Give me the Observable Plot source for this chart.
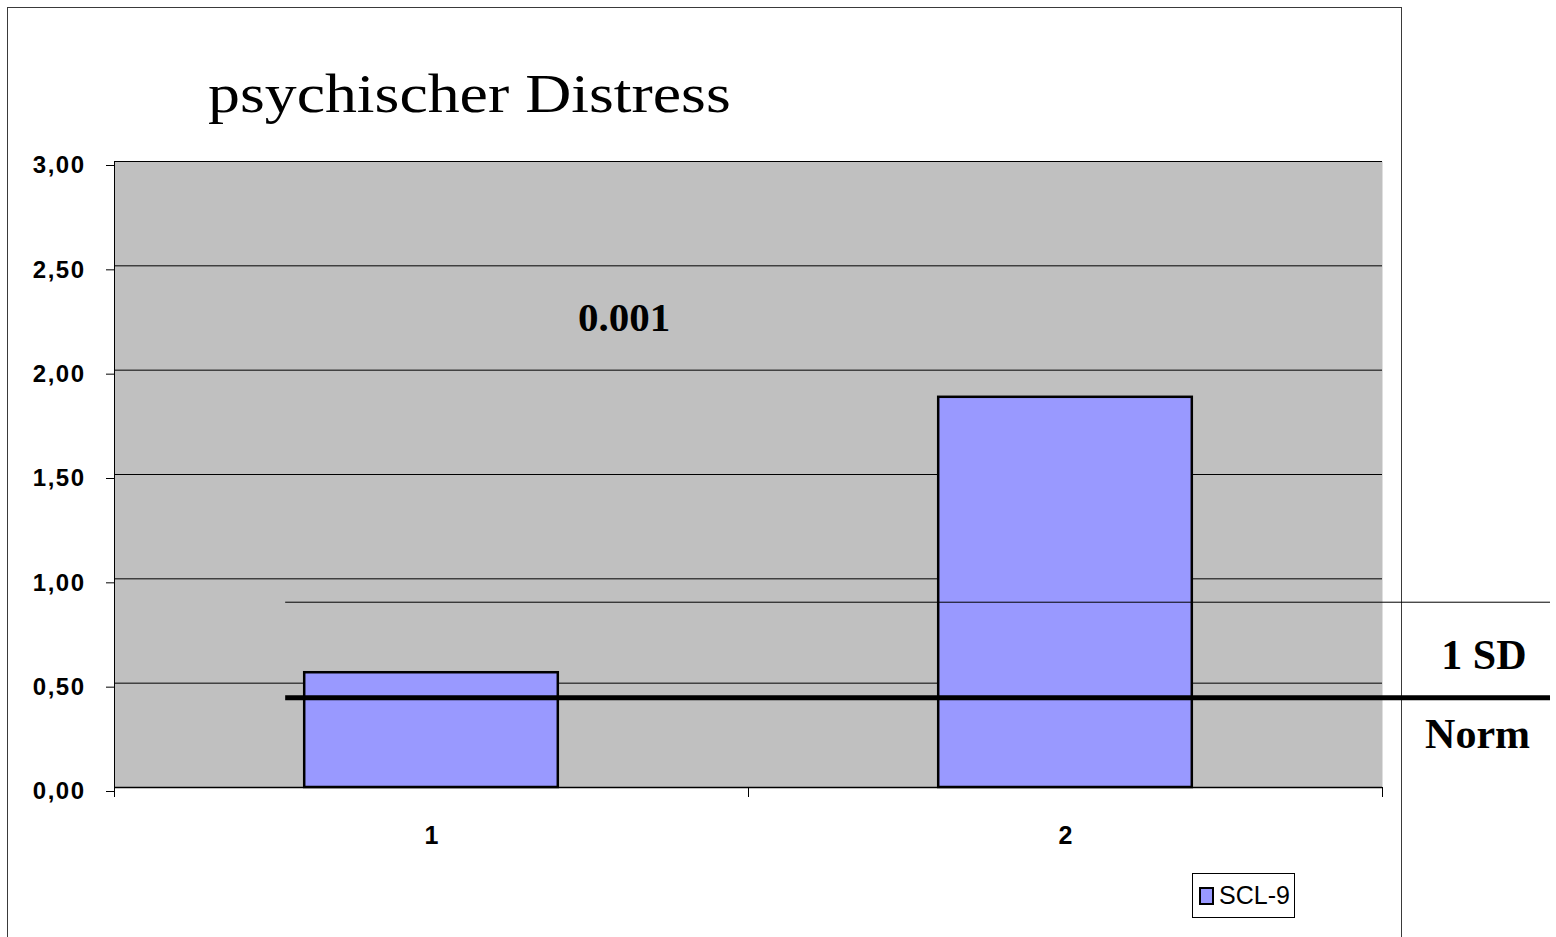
<!DOCTYPE html>
<html>
<head>
<meta charset="utf-8">
<script src="https://cdn.jsdelivr.net/npm/d3@7"></script>
<script src="https://cdn.jsdelivr.net/npm/@observablehq/plot@0.6"></script>
<style>
  html, body { margin: 0; padding: 0; background: #fff; width: 1556px; height: 937px; overflow: hidden; }
  #wrap { position: relative; width: 1556px; height: 937px; }
  #outer { position: absolute; left: 7px; top: 7px; width: 1395px; height: 960px; border: 1.5px solid #3a3a3a; box-sizing: border-box; }
  #chart { position: absolute; left: 0; top: 0; }
  #title { position: absolute; left: 208px; top: 66px; font-family: "Liberation Serif", "Times New Roman", serif; font-size: 55px; line-height: 1; color: #000; white-space: nowrap; transform: scaleX(1.16); transform-origin: left top; }
  #legend { position: absolute; left: 1192px; top: 873px; width: 103px; height: 45px; border: 1px solid #000; box-sizing: border-box; background: #fff; display: flex; align-items: center; padding-left: 6px; font-family: "Liberation Sans", Arial, sans-serif; font-size: 25px; }
  #legend .sw { width: 15px; height: 18px; background: #9999ff; border: 2px solid #000; box-sizing: border-box; margin-right: 5px; }
  .ylab text { letter-spacing: 1.5px; }
</style>
</head>
<body>
<div id="wrap">
  <div id="outer"></div>
  <div id="chart"></div>
  <div id="title">psychischer Distress</div>
  <div id="legend"><div class="sw"></div><span id="legendLabel"></span></div>
</div>
<script>
// Data
const categories = [1, 2];
const values = [0.55, 1.87];
const seriesName = "SCL-9";
const yTicks = [0, 0.5, 1, 1.5, 2, 2.5, 3];
const normValue = 0.43;
const sdValue = 0.888;
const refLabels = ["1 SD", "Norm"];
const pLabel = "0.001";

document.getElementById("legendLabel").textContent = seriesName;

const bars = categories.map((c, i) => ({cat: c, value: values[i]}));
const halfBar = 0.2;
const lineStart = 0.77, lineEnd = 2.765;

const sansFont = '"Liberation Sans", Arial, sans-serif';
const serifFont = '"Liberation Serif", "Times New Roman", serif';

const chart = Plot.plot({
  width: 1556,
  height: 937,
  marginLeft: 114,
  marginRight: 174,
  marginTop: 161,
  marginBottom: 150,
  style: {background: "transparent", overflow: "visible"},
  x: {type: "linear", domain: [0.5, 2.5]},
  y: {domain: [0, 3]},
  marks: [
    Plot.frame({fill: "#c0c0c0", stroke: null}),
    Plot.gridY(yTicks, {stroke: "#000", strokeOpacity: 1, strokeWidth: 1}),
    Plot.rectY(bars, {
      x1: d => d.cat - halfBar,
      x2: d => d.cat + halfBar,
      y1: 0,
      y2: "value",
      fill: "#9999ff",
      stroke: "#000",
      strokeWidth: 2.5
    }),
    Plot.ruleY([sdValue], {x1: lineStart, x2: lineEnd, stroke: "#000", strokeWidth: 1}),
    Plot.ruleY([normValue], {x1: lineStart, x2: lineEnd, stroke: "#000", strokeWidth: 5}),
    Plot.ruleX([0.5], {stroke: "#000", strokeWidth: 1}),
    Plot.ruleY([0], {stroke: "#000", strokeWidth: 1.5}),
    Plot.axisY({
      ticks: yTicks,
      tickFormat: d => d.toFixed(2).replace(".", ","),
      tickSize: 8,
      tickPadding: 21,
      fontSize: 24,
      fontWeight: "bold",
      fontFamily: sansFont,
      label: null,
      stroke: "#000",
      textStroke: null,
      className: "ylab",
      dy: 4
    }),
    Plot.axisX({
      ticks: [0.5, 1.5, 2.5],
      tickFormat: () => "",
      tickSize: 10,
      label: null,
      stroke: "#000"
    }),
    Plot.axisX({
      ticks: categories,
      tickFormat: d => String(d),
      tickSize: 0,
      tickPadding: 39,
      fontSize: 25,
      fontWeight: "bold",
      fontFamily: sansFont,
      label: null
    }),
    Plot.text([pLabel], {
      x: 1.304, y: 2.25,
      text: d => d,
      fontSize: 41,
      fontWeight: "bold",
      fontFamily: serifFont,
      fill: "#000"
    }),
    Plot.text([refLabels[0]], {
      x: 2.66, y: normValue, dy: -42,
      text: d => d,
      fontSize: 42,
      fontWeight: "bold",
      fontFamily: serifFont,
      fill: "#000"
    }),
    Plot.text([refLabels[1]], {
      x: 2.65, y: normValue, dy: 37,
      text: d => d,
      fontSize: 42,
      fontWeight: "bold",
      fontFamily: serifFont,
      fill: "#000"
    })
  ]
});
document.getElementById("chart").appendChild(chart);
</script>
</body>
</html>
